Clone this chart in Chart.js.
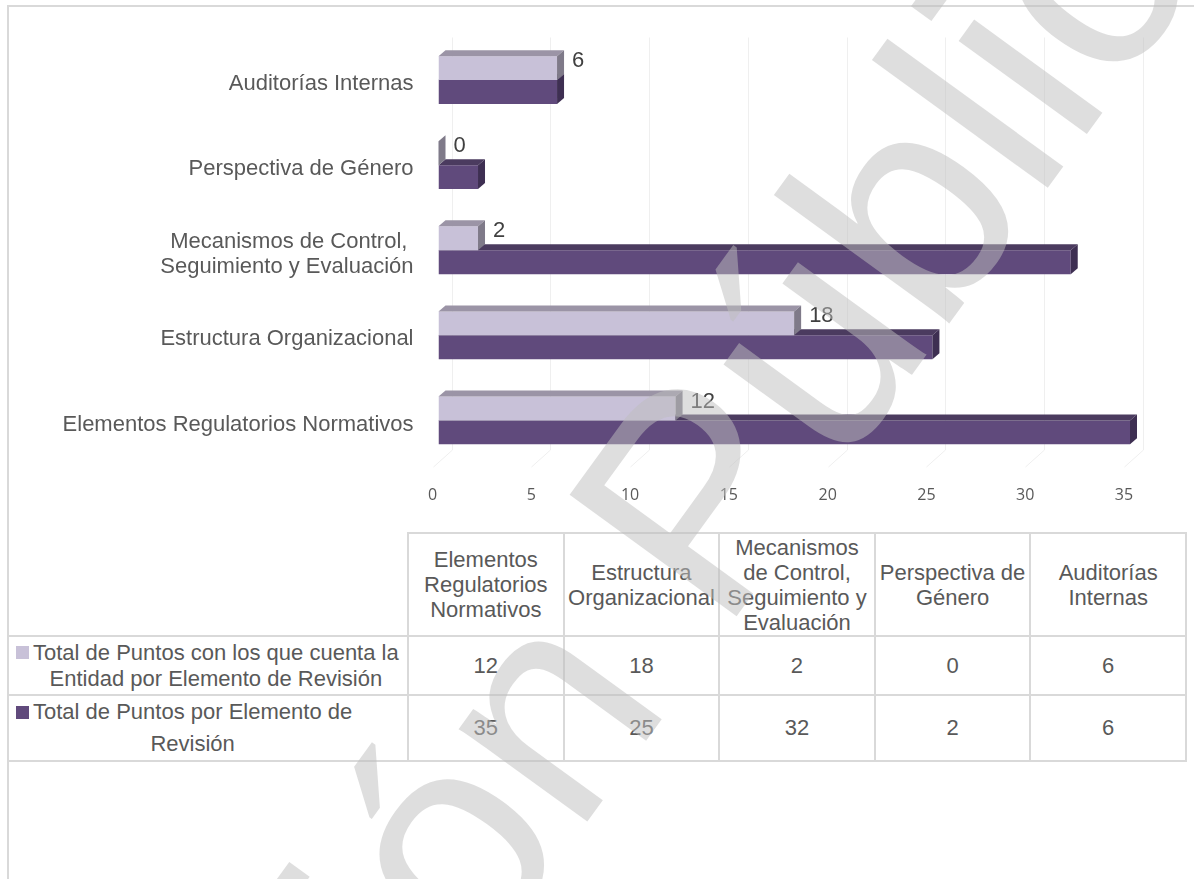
<!DOCTYPE html>
<html lang="es">
<head>
<meta charset="utf-8">
<title>Puntos por Elemento de Revisión</title>
<script src="https://cdn.jsdelivr.net/npm/chart.js@4.4.1/dist/chart.umd.min.js"></script>
<style>
  html, body { margin: 0; padding: 0; background: #fff; }
  body { width: 1194px; height: 879px; position: relative; overflow: hidden;
         font-family: 'Liberation Sans', Arial, sans-serif; color: #595959; }
  #marco { position: absolute; left: 7px; top: 5px; width: 1300px; height: 1000px;
           border-left: 2px solid #d9d9d9; border-top: 2px solid #d9d9d9; }
  #contenedor { position: absolute; left: 0; top: 0; width: 1194px; height: 525px; }
  #tabla { position: absolute; left: 7px; top: 532px; border-collapse: collapse;
           table-layout: fixed; font-size: 22px; width: 1178px; }
  #tabla td { border: 2px solid #d9d9d9; text-align: center; vertical-align: middle;
              padding: 0; white-space: nowrap; }
  #tabla td.vacia { border-top: none; border-left: none; }
  #tabla tr.enc td { height: 101px; line-height: 25px; }
  #tabla tr.fila td { height: 57px; }
  .leyenda { display: flex; align-items: flex-start; padding-left: 7px; }
  .muestra { width: 13px; height: 13px; margin-right: 4px; flex: none; }
  .texto { display: inline-block; text-align: center; }
  #marca { position: absolute; left: 0; top: 0; pointer-events: none; }
  #marca text { font-family: 'Liberation Sans', Arial, sans-serif; font-size: 300px; }
</style>
</head>
<body>
<div id="marco"></div>
<div id="contenedor"><canvas id="graficoPuntos"></canvas></div>
<table id="tabla"></table>
<svg id="marca" width="1194" height="879"></svg>
<script>
// Datos (orden de la tabla de datos)
const categorias = ['Elementos Regulatorios Normativos', 'Estructura Organizacional',
    'Mecanismos de Control, Seguimiento y Evaluación', 'Perspectiva de Género', 'Auditorías Internas'];
const etiquetasEje = [['Elementos Regulatorios Normativos'], ['Estructura Organizacional'],
    ['Mecanismos de Control, ', 'Seguimiento y Evaluación'], ['Perspectiva de Género'], ['Auditorías Internas']];
const encabezadosTabla = [['Elementos', 'Regulatorios', 'Normativos'], ['Estructura', 'Organizacional'],
    ['Mecanismos', 'de Control,', 'Seguimiento y', 'Evaluación'], ['Perspectiva de', 'Género'], ['Auditorías', 'Internas']];
const serieEntidad = ['Total de Puntos con los que cuenta la', 'Entidad por Elemento de Revisión'];
const serieTotal = ['Total de Puntos por Elemento de', 'Revisión'];
const puntosEntidad = [12, 18, 2, 0, 6];
const puntosTotal = [35, 25, 32, 2, 6];
const ticksX = [0, 5, 10, 15, 20, 25, 30, 35];

// Colores
const colorEntidad = '#c8c1d8';
const colorTotal = '#604a7c';
const PROF_X = 7, PROF_Y = 6;

// Caras 3D de las barras y muro de fondo
const caras3D = {
    id: 'caras3D',
    beforeDatasetsDraw(chart) {
        const { ctx, chartArea } = chart;
        const x = chart.scales.x;
        ctx.save();
        ctx.strokeStyle = '#efefef';
        ctx.lineWidth = 1;
        x.ticks.forEach(t => {
            const px = Math.round(x.getPixelForValue(t.value)) + 0.5;
            ctx.beginPath();
            ctx.moveTo(px + 13, chartArea.top);
            ctx.lineTo(px + 13, chartArea.bottom - 13);
            ctx.lineTo(px - 6, chartArea.bottom + 4);
            ctx.stroke();
        });
        ctx.restore();
    },
    afterDatasetDraw(chart, args) {
        const ds = chart.data.datasets[args.index];
        const ctx = chart.ctx;
        ctx.save();
        args.meta.data.forEach(bar => {
            const { x, y, base, height } = bar.getProps(['x', 'y', 'base', 'height'], true);
            const arriba = y - height / 2, abajo = y + height / 2;
            ctx.fillStyle = ds.colorSuperior;
            ctx.beginPath();
            ctx.moveTo(base, arriba);
            ctx.lineTo(base + PROF_X, arriba - PROF_Y);
            ctx.lineTo(x + PROF_X, arriba - PROF_Y);
            ctx.lineTo(x, arriba);
            ctx.closePath();
            ctx.fill();
            ctx.fillStyle = ds.colorLateral;
            ctx.beginPath();
            ctx.moveTo(x, arriba);
            ctx.lineTo(x + PROF_X, arriba - PROF_Y);
            ctx.lineTo(x + PROF_X, abajo - PROF_Y);
            ctx.lineTo(x, abajo);
            ctx.closePath();
            ctx.fill();
        });
        ctx.restore();
    },
    afterDatasetsDraw(chart) {
        // etiquetas de valor solo para la serie de la Entidad
        const ctx = chart.ctx;
        const meta = chart.getDatasetMeta(0);
        ctx.save();
        ctx.font = '22px "Liberation Sans", Arial, sans-serif';
        ctx.fillStyle = '#404040';
        ctx.textAlign = 'left';
        ctx.textBaseline = 'middle';
        meta.data.forEach((bar, i) => {
            const { x, y } = bar.getProps(['x', 'y'], true);
            ctx.fillText(String(puntosEntidad[i]), x + PROF_X + 8, y - 7);
        });
        ctx.restore();
    }
};

const configPuntos = {
    type: 'bar',
    data: {
        labels: etiquetasEje,
        datasets: [
            {
                label: serieEntidad.join(' '),
                data: puntosEntidad,
                backgroundColor: colorEntidad,
                colorSuperior: '#9b94a6',
                colorLateral: '#7f7a89',
                categoryPercentage: 0.562,
                barPercentage: 1.0
            },
            {
                label: serieTotal.join(' '),
                data: puntosTotal,
                backgroundColor: colorTotal,
                colorSuperior: '#4b3b5f',
                colorLateral: '#3e2f52',
                categoryPercentage: 0.562,
                barPercentage: 1.0
            }
        ]
    },
    options: {
        indexAxis: 'y',
        responsive: true,
        maintainAspectRatio: false,
        animation: false,
        layout: { padding: { top: 35, right: 64, bottom: 12, left: 0 } },
        plugins: { legend: { display: false }, tooltip: { enabled: false } },
        scales: {
            x: {
                min: 0,
                max: 35,
                afterBuildTicks: s => { s.ticks = ticksX.map(v => ({ value: v })); },
                afterFit: s => { s.height = 50; },
                grid: { display: false, drawTicks: false },
                border: { display: false },
                ticks: {
                    padding: 23,
                    labelOffset: -6,
                    color: '#595959',
                    font: { family: '"Open Sans", sans-serif', size: 16 }
                }
            },
            y: {
                reverse: true,
                afterFit: s => { s.width = 438.5; },
                grid: { display: false, drawTicks: false },
                border: { display: false },
                ticks: {
                    padding: 25,
                    labelOffset: 4,
                    color: '#595959',
                    font: { family: '"Liberation Sans", Arial, sans-serif', size: 22, lineHeight: '25px' }
                }
            }
        }
    },
    plugins: [caras3D]
};

new Chart(document.getElementById('graficoPuntos'), configPuntos);

// Tabla de datos
const tabla = document.getElementById('tabla');
let html = '<colgroup><col style="width:400px">' + categorias.map(() => '<col style="width:155.6px">').join('') + '</colgroup>';
html += '<tr class="enc"><td class="vacia"></td>' + encabezadosTabla.map(l => '<td>' + l.join('<br>') + '</td>').join('') + '</tr>';
const filas = [
    { nombre: serieEntidad, color: colorEntidad, valores: puntosEntidad, alto: 26, margen: 6.5 },
    { nombre: serieTotal, color: colorTotal, valores: puntosTotal, alto: 32, margen: 9.5 }
];
filas.forEach(f => {
    html += '<tr class="fila"><td style="text-align:left"><div class="leyenda">' +
        '<span class="muestra" style="background:' + f.color + ';margin-top:' + f.margen + 'px"></span>' +
        '<span class="texto" style="line-height:' + f.alto + 'px">' + f.nombre.join('<br>') + '</span></div></td>' +
        f.valores.map(v => '<td>' + v + '</td>').join('') + '</tr>';
});
tabla.innerHTML = html;

// Marca de agua
const svg = document.getElementById('marca');
const marca = document.createElementNS('http://www.w3.org/2000/svg', 'text');
marca.setAttribute('x', 85);
marca.setAttribute('y', 1513);
marca.setAttribute('transform', 'rotate(-54 85 1513)');
marca.setAttribute('fill', 'rgb(189,189,189)');
marca.setAttribute('fill-opacity', '0.5');
marca.textContent = 'Versión Pública';
svg.appendChild(marca);
</script>
</body>
</html>
